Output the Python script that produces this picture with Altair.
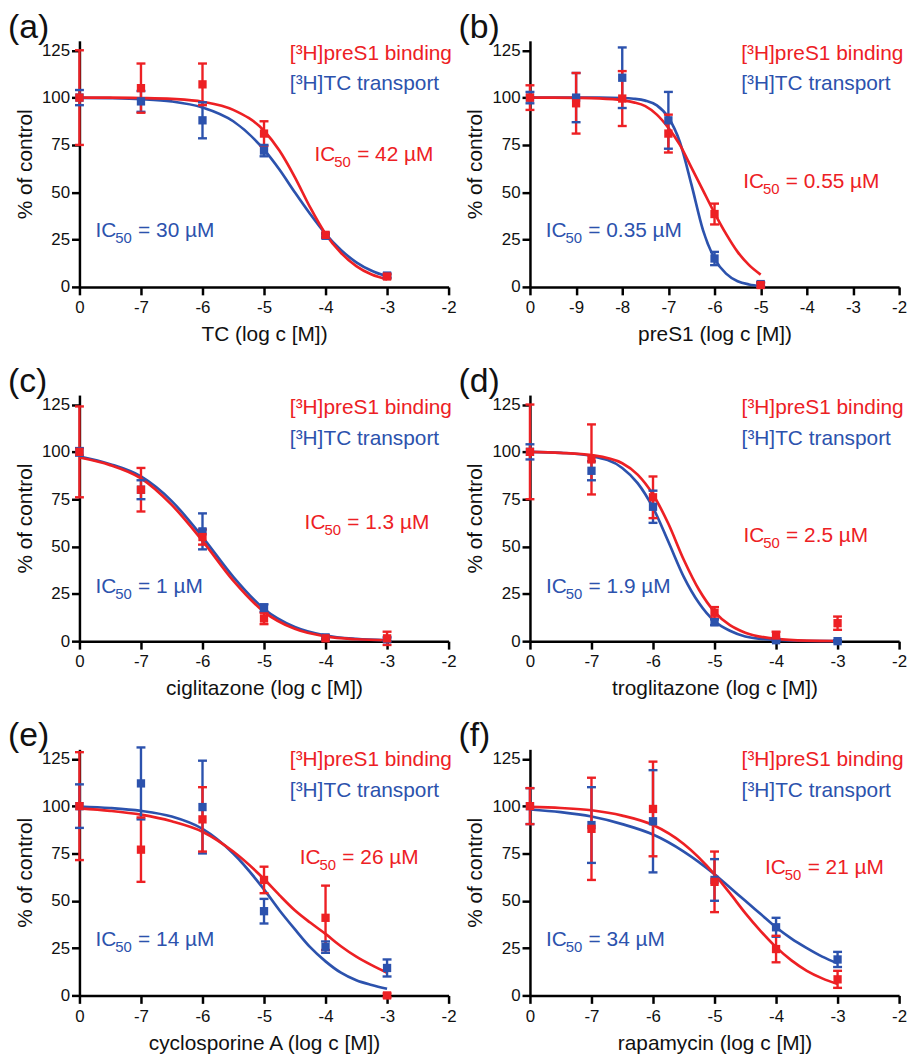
import altair as alt
import pandas as pd

RED = "#ED2024"
BLUE = "#2C52AD"
FONT = "Liberation Sans"

PANEL_IDS = ["(a)", "(b)", "(c)", "(d)", "(e)", "(f)"]
X_TITLES = ["TC (log c [M])", "preS1 (log c [M])", "ciglitazone (log c [M])",
            "troglitazone (log c [M])", "cyclosporine A (log c [M])", "rapamycin (log c [M])"]
X_MIN = [-8, -10, -8, -8, -8, -8]          # axis position labelled "0" (control)
LEGEND_RED = "[³H]preS1 binding"
LEGEND_BLUE = "[³H]TC transport"

# ---------- measured points (x = log c, control plotted at the "0" position) ----------
A_X = [-8, -7, -6, -5, -4, -3]
A_RED = [100, 105, 107, 81, 27.5, 5.5]
A_RED_ERR = [25, 13, 11, 6.5, 1, 1]
A_BLUE = [100, 98, 88, 72, 27, 6]
A_BLUE_ERR = [4, 5.5, 9.5, 3, 1, 1]

B_X = [-10, -9, -8, -7, -6, -5]
B_RED = [100, 97, 99.5, 81, 38.5, 1]
B_RED_ERR = [6.5, 16, 14.5, 10, 5.5, 1]
B_BLUE = [100, 100, 110.5, 88, 15, 1.5]
B_BLUE_ERR = [3, 13, 16, 15, 3.5, 1]

C_X = [-8, -7, -6, -5, -4, -3]
C_RED = [100, 80, 55, 12, 1.5, 1.5]
C_RED_ERR = [24, 11.5, 4, 3, 1, 3.5]
C_BLUE = [100, 80, 58, 17.5, 2, 1]
C_BLUE_ERR = [2, 5, 9.5, 2, 1, 1]

D_X = [-8, -7, -6, -5, -4, -3]
D_RED = [100, 96, 76, 15, 3, 9.5]
D_RED_ERR = [25, 18.5, 11, 3, 2, 3.5]
D_BLUE = [100, 90, 71, 10, 0.5, 0]
D_BLUE_ERR = [4, 5, 8.5, 1.5, 0.5, 0.5]

E_X = [-8, -7, -6, -5, -4, -3]
E_RED = [100, 77, 93, 61, 41, 0]
E_RED_ERR = [28.5, 17, 17, 7, 17, 1]
E_BLUE = [100, 112, 99.5, 44.5, 25.5, 14.5]
E_BLUE_ERR = [11.5, 19, 24.5, 6.5, 3, 4.5]

F_X = [-8, -7, -6, -5, -4, -3]
F_RED = [100, 88, 98.5, 60, 24.5, 8.5]
F_RED_ERR = [9.5, 27, 25, 16, 7, 4.5]
F_BLUE = [100, 90, 92, 61, 36, 19]
F_BLUE_ERR = [9.5, 20, 27, 11, 5, 4]

# ---------- fitted curves ----------
A_CX = [-8, -7.5, -7, -6.5, -6, -5.5, -5, -4.75, -4.5, -4.25, -4, -3.75, -3.5, -3.25, -3]
A_RED_FIT = [100, 100, 99.8, 99.3, 97.8, 93.5, 82.5, 72, 58, 42, 28, 18, 11, 6.5, 4]
A_BLUE_FIT = [99.9, 99.7, 99.2, 98, 94.8, 87.5, 72.5, 62, 50, 38.5, 28, 19.5, 13, 8.5, 5.5]

B_CX = [-10, -9.5, -9, -8.5, -8, -7.75, -7.5, -7.25, -7, -6.75, -6.5, -6.25, -6, -5.75, -5.5, -5.25, -5]
B_RED_FIT = [100, 100, 99.9, 99.6, 98.6, 97.5, 95.5, 91, 84, 75, 63, 51, 39, 28, 18.5, 11.5, 6.5]
B_BLUE_FIT = [100, 100, 100, 100, 99.8, 99.4, 98.4, 95.9, 89.5, 76.5, 54, 30, 15, 7, 3, 1.3, 0.5]

C_CX = [-8, -7.5, -7, -6.5, -6, -5.5, -5, -4.5, -4, -3.5, -3]
C_RED_FIT = [97, 93, 86, 72, 53, 32, 15.5, 6.5, 2.5, 1, 0.5]
C_BLUE_FIT = [97.5, 93.5, 87, 74, 55, 34, 17, 7.5, 3, 1.2, 0.5]

D_CX = [-8, -7.5, -7, -6.5, -6.25, -6, -5.75, -5.5, -5.25, -5, -4.75, -4.5, -4, -3.5, -3]
D_RED_FIT = [100, 99.5, 98.3, 94, 88, 77.5, 62, 43, 27, 15.5, 8.5, 4.5, 1.2, 0.3, 0.1]
D_BLUE_FIT = [100, 99.5, 97.8, 91.5, 83.5, 70.5, 52.5, 34, 20, 10.5, 5.5, 2.5, 0.6, 0.1, 0]

E_CX = [-8, -7.5, -7, -6.5, -6, -5.5, -5, -4.75, -4.5, -4.25, -4, -3.75, -3.5, -3.25, -3]
E_RED_FIT = [98.8, 97.5, 95.5, 92, 86.5, 76, 61.5, 53, 45, 38.5, 32.5, 26, 20.5, 16, 12]
E_BLUE_FIT = [99.8, 99, 97.5, 94.5, 88, 75, 56, 45, 35, 25.5, 18, 12, 8, 5.5, 3.5]

F_CX = [-8, -7.5, -7, -6.5, -6, -5.5, -5, -4.75, -4.5, -4.25, -4, -3.75, -3.5, -3.25, -3]
F_RED_FIT = [99.6, 99, 97.8, 95, 90, 80, 64, 54, 43.5, 34, 25.5, 18.5, 13, 9, 6]
F_BLUE_FIT = [98.2, 96.8, 94.5, 90.5, 85, 76, 64, 57, 50, 43, 36, 30, 25, 20.5, 17]

# ---------- annotations (data coordinates) ----------
LEG_X = [-4.58, -5.42, -4.58, -4.56, -4.58, -4.56]
LEG_Y_RED = [122.8, 122.8, 123, 123, 124.5, 124.5]
LEG_Y_BLUE = [107, 107, 106.8, 106.8, 107.8, 107.8]
IC_RED_POS = [(-4.18, 69.8), (-5.38, 55.6), (-4.34, 62.2), (-4.53, 55.4), (-4.42, 72.7), (-4.18, 67.4)]
IC_BLUE_POS = [(-7.74, 29.4), (-9.66, 29.4), (-7.74, 28.7), (-7.74, 28.7), (-7.74, 29.3), (-7.74, 29.3)]
IC_RED_VAL = ["42 µM", "0.55 µM", "1.3 µM", "2.5 µM", "26 µM", "21 µM"]
IC_BLUE_VAL = ["30 µM", "0.35 µM", "1 µM", "1.9 µM", "14 µM", "34 µM"]

POINTS = [
    (A_X, A_RED, A_RED_ERR, A_BLUE, A_BLUE_ERR),
    (B_X, B_RED, B_RED_ERR, B_BLUE, B_BLUE_ERR),
    (C_X, C_RED, C_RED_ERR, C_BLUE, C_BLUE_ERR),
    (D_X, D_RED, D_RED_ERR, D_BLUE, D_BLUE_ERR),
    (E_X, E_RED, E_RED_ERR, E_BLUE, E_BLUE_ERR),
    (F_X, F_RED, F_RED_ERR, F_BLUE, F_BLUE_ERR),
]
CURVES = [
    (A_CX, A_RED_FIT, A_BLUE_FIT),
    (B_CX, B_RED_FIT, B_BLUE_FIT),
    (C_CX, C_RED_FIT, C_BLUE_FIT),
    (D_CX, D_RED_FIT, D_BLUE_FIT),
    (E_CX, E_RED_FIT, E_BLUE_FIT),
    (F_CX, F_RED_FIT, F_BLUE_FIT),
]

W, H = 372, 248
color_scale = alt.Scale(domain=["blue", "red"], range=[BLUE, RED])


def panel(i):
    xs, rm, re, bm, be = POINTS[i]
    cx, rf, bf = CURVES[i]
    pts = pd.DataFrame({
        "x": list(xs) * 2,
        "m": list(bm) + list(rm),
        "lo": [m - e for m, e in zip(bm, be)] + [m - e for m, e in zip(rm, re)],
        "hi": [m + e for m, e in zip(bm, be)] + [m + e for m, e in zip(rm, re)],
        "s": ["blue"] * len(xs) + ["red"] * len(xs),
    })
    cur = pd.DataFrame({
        "x": list(cx) * 2,
        "y": list(bf) + list(rf),
        "s": ["blue"] * len(cx) + ["red"] * len(cx),
    })
    xmin = X_MIN[i]
    xscale = alt.Scale(domain=[xmin, -2], nice=False, zero=False)
    yscale = alt.Scale(domain=[0, 130], nice=False, zero=True)
    xaxis = alt.Axis(values=list(range(xmin, -1)), title=X_TITLES[i],
                     labelExpr=f"datum.value == {xmin} ? '0' : '' + datum.value",
                     labelFlush=False, labelOverlap=False, labelPadding=5, titlePadding=8)
    yaxis = alt.Axis(values=[0, 25, 50, 75, 100, 125], title="% of control",
                     labelPadding=2, titlePadding=6)
    X = lambda f: alt.X(f, type="quantitative", scale=xscale, axis=xaxis)
    Y = lambda f: alt.Y(f, type="quantitative", scale=yscale, axis=yaxis)
    col = alt.Color("s:N", scale=color_scale, legend=None)

    lines = alt.Chart(cur).mark_line(strokeWidth=2.7, interpolate="monotone", clip=False).encode(
        x=X("x"), y=Y("y"), color=col, detail="s:N")
    bars = alt.Chart(pts).mark_rule(strokeWidth=2.4).encode(
        x=X("x"), y=Y("lo"), y2="hi", color=col)
    cap_lo = alt.Chart(pts).mark_tick(orient="horizontal", size=9, thickness=2.4, opacity=1).encode(
        x=X("x"), y=Y("lo"), color=col)
    cap_hi = alt.Chart(pts).mark_tick(orient="horizontal", size=9, thickness=2.4, opacity=1).encode(
        x=X("x"), y=Y("hi"), color=col)
    sq = alt.Chart(pts).mark_square(size=70, opacity=1, filled=True).encode(
        x=X("x"), y=Y("m"), color=col)

    leg = pd.DataFrame({"x": [LEG_X[i], LEG_X[i]], "y": [LEG_Y_RED[i], LEG_Y_BLUE[i]],
                        "t": [LEGEND_RED, LEGEND_BLUE], "c": [RED, BLUE]})
    leg_t = alt.Chart(leg).mark_text(align="left", baseline="middle", font=FONT, fontSize=21).encode(
        x=X("x"), y=Y("y"), text="t:N", color=alt.Color("c:N", scale=None))

    ic = pd.DataFrame({"x": [IC_RED_POS[i][0], IC_BLUE_POS[i][0]],
                       "y": [IC_RED_POS[i][1], IC_BLUE_POS[i][1]],
                       "v": ["= " + IC_RED_VAL[i], "= " + IC_BLUE_VAL[i]],
                       "c": [RED, BLUE]})
    ic1 = alt.Chart(ic).mark_text(align="left", baseline="middle", font=FONT, fontSize=21).encode(
        x=X("x"), y=Y("y"), text=alt.value("IC"), color=alt.Color("c:N", scale=None))
    ic2 = alt.Chart(ic).mark_text(align="left", baseline="middle", font=FONT, fontSize=15, dx=20, dy=7).encode(
        x=X("x"), y=Y("y"), text=alt.value("50"), color=alt.Color("c:N", scale=None))
    ic3 = alt.Chart(ic).mark_text(align="left", baseline="middle", font=FONT, fontSize=21, dx=43).encode(
        x=X("x"), y=Y("y"), text="v:N", color=alt.Color("c:N", scale=None))

    tag = alt.Chart(pd.DataFrame({"t": [PANEL_IDS[i]]})).mark_text(
        align="left", baseline="alphabetic", font=FONT, fontSize=34, color="#111"
    ).encode(x=alt.value(-72), y=alt.value(-3), text="t:N")

    return alt.layer(lines, bars, cap_lo, cap_hi, sq, leg_t, ic1, ic2, ic3, tag).properties(
        width=W, height=H)


chart = alt.concat(*[panel(i) for i in range(6)], columns=2, bounds="flush",
                   spacing={"row": 109, "column": 82}).properties(
    padding={"left": 0, "top": -1, "right": 5, "bottom": 2}
).configure_axis(
    labelFont=FONT, titleFont=FONT, labelFontSize=17, titleFontSize=21,
    titleFontWeight="normal", labelColor="#111", titleColor="#111",
    domainColor="black", domainWidth=2.5, tickColor="black", tickWidth=2.5,
    tickSize=8, grid=False,
).configure_view(stroke=None)

chart.save("out.html", embed_options={"renderer": "svg", "actions": False})
